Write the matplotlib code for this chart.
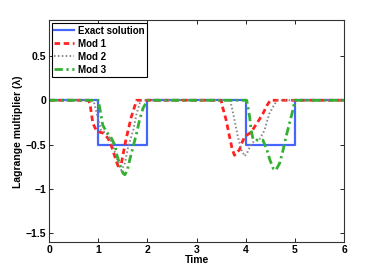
import matplotlib
matplotlib.use('Agg')
import matplotlib.pyplot as plt

# exact solution (step function)
t_exact = [0, 1, 1, 2, 2, 4, 4, 5, 5, 6]
l_exact = [0, 0, -0.5, -0.5, 0, 0, -0.5, -0.5, 0, 0]

# Mod 1
t_mod1 = [0, 0.8, 0.83, 0.86, 0.89, 0.96, 1.03, 1.1, 1.2, 1.27, 1.34, 1.40, 1.47, 1.56, 1.67, 1.78,
          3.5, 3.52, 3.6, 3.67, 3.72, 3.77, 3.87, 3.93, 3.98, 4.11, 4.25, 4.35, 4.43, 4.5, 6]
l_mod1 = [0, 0, -0.04, -0.15, -0.26, -0.34, -0.36, -0.37, -0.43, -0.52, -0.64, -0.74, -0.71, -0.45, -0.19, 0,
          0, -0.06, -0.22, -0.41, -0.54, -0.62, -0.56, -0.47, -0.41, -0.36, -0.24, -0.15, -0.06, 0, 0]

# Mod 2
t_mod2 = [0, 0.9, 0.93, 1.0, 1.06, 1.17, 1.27, 1.37, 1.47, 1.54, 1.61, 1.71, 1.78, 1.86,
          3.68, 3.71, 3.77, 3.84, 3.91, 3.98, 4.04, 4.11, 4.2, 4.28, 4.38, 4.48, 4.59, 4.65, 6]
l_mod2 = [0, 0, -0.06, -0.22, -0.34, -0.37, -0.47, -0.64, -0.79, -0.71, -0.52, -0.34, -0.15, 0,
          0, -0.06, -0.22, -0.41, -0.56, -0.63, -0.58, -0.49, -0.45, -0.44, -0.34, -0.15, -0.04, 0, 0]

# Mod 3
t_mod3 = [0, 1.0, 1.05, 1.09, 1.17, 1.25, 1.34, 1.38, 1.44, 1.5, 1.54, 1.59, 1.64, 1.71, 1.78, 1.84, 1.91, 2.0,
          4.02, 4.08, 4.11, 4.15, 4.25, 4.35, 4.43, 4.49, 4.56, 4.61, 4.69, 4.76, 4.82, 4.89, 4.95, 5.0, 6]
l_mod3 = [0, 0, -0.15, -0.28, -0.36, -0.41, -0.51, -0.62, -0.73, -0.82, -0.84, -0.79, -0.67, -0.52, -0.37, -0.22, -0.09, 0,
          0, -0.19, -0.34, -0.44, -0.45, -0.45, -0.56, -0.67, -0.77, -0.79, -0.71, -0.56, -0.41, -0.26, -0.13, 0, 0]

plt.rcParams['font.family'] = ['Liberation Sans', 'DejaVu Sans']
plt.rcParams['font.weight'] = 'bold'
plt.rcParams['font.size'] = 7.5

fig = plt.figure(figsize=(3.81, 2.73), dpi=100)
ax = fig.add_axes([0.129, 0.113, 0.774, 0.812])

ax.plot(t_exact, l_exact, color='#4466ff', ls='-', lw=1.6, label='Exact solution')
ax.plot(t_mod1, l_mod1, color='#ff2222', ls=(0, (2, 1.3)), lw=2, label='Mod 1')
ax.plot(t_mod2, l_mod2, color='#888888', ls=(0, (0.8, 1.2)), lw=1.4, label='Mod 2')
ax.plot(t_mod3, l_mod3, color='#33b033', ls=(0, (3, 1.3, 0.8, 1.3)), lw=2, label='Mod 3')

ax.set_xlim(0, 6)
ax.set_ylim(-1.6, 0.9)
ax.set_xticks([0, 1, 2, 3, 4, 5, 6])
ax.set_yticks([-1.5, -1, -0.5, 0, 0.5])
ax.set_yticklabels(['\u22121.5', '\u22121', '\u22120.5', '0', '0.5'])
ax.tick_params(direction='in', top=True, right=True, length=3, width=0.6, pad=2)
for s in ax.spines.values():
    s.set_linewidth(0.8)
    s.set_color('#333333')

ax.set_xlabel('Time', fontweight='bold', labelpad=0)
ax.set_ylabel('Lagrange multiplier (\u03bb)', fontweight='bold', labelpad=2)

leg = ax.legend(loc='upper left', fancybox=False, edgecolor='black', framealpha=1,
                borderaxespad=0.25, handlelength=2.0, labelspacing=0.3, borderpad=0.3,
                handletextpad=0.4, prop={'weight': 'bold', 'size': 7})
leg.get_frame().set_linewidth(0.8)

plt.savefig('out.png', dpi=100)
